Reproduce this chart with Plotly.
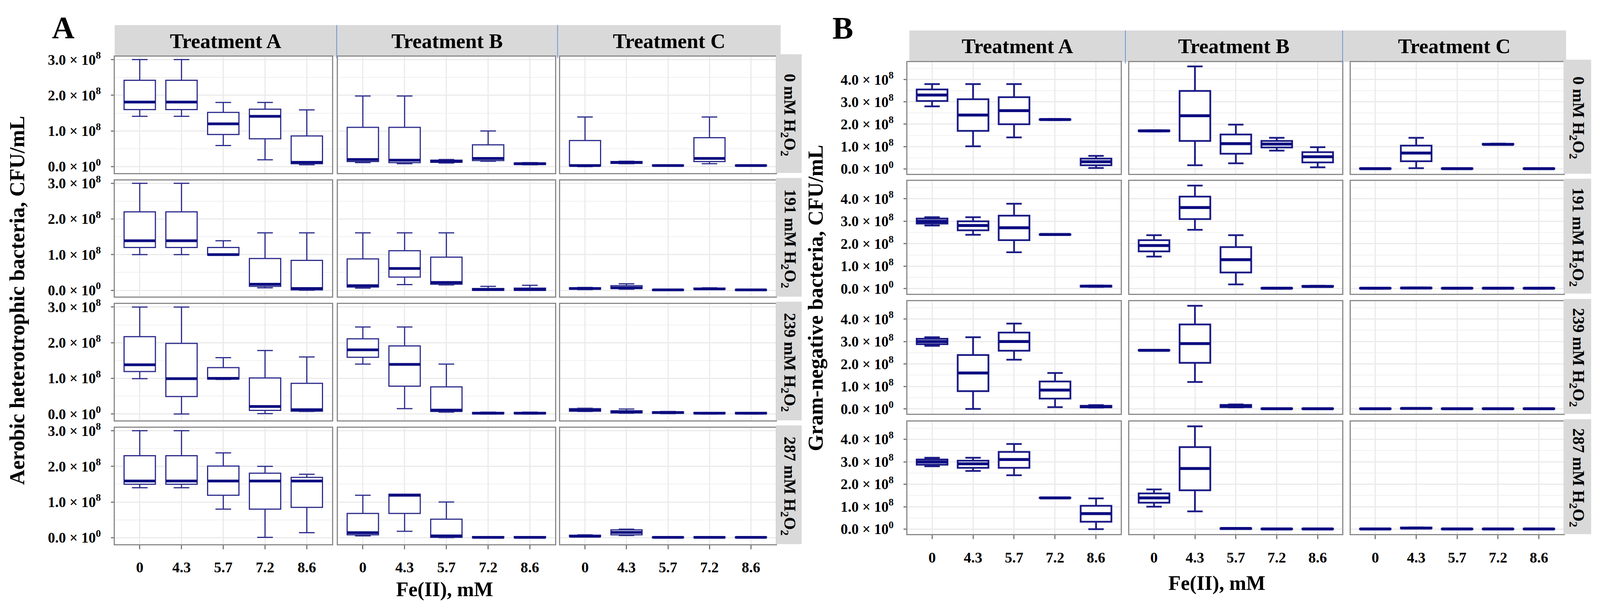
import plotly.graph_objects as go

W, H = 4339, 1564   # reference geometry used to place everything (paper fractions)
FONT = "Liberation Serif"

# ---------------- data (units of 10^8 CFU/mL) ----------------
# each row: [lower whisker, q1, median, q3, upper whisker] for Fe(II) 0, 4.3, 5.7, 7.2, 8.6 mM
fe_labels = ["0", "4.3", "5.7", "7.2", "8.6"]
treatments = ["Treatment A", "Treatment B", "Treatment C"]
h2o2_labels = ["0 mM H<sub>2</sub>O<sub>2</sub>", "191 mM H<sub>2</sub>O<sub>2</sub>",
               "239 mM H<sub>2</sub>O<sub>2</sub>", "287 mM H<sub>2</sub>O<sub>2</sub>"]
aer_ticks = [0, 1, 2, 3]
aer_ticktext = ["0.0 × 10<sup>0</sup>", "1.0 × 10<sup>8</sup>", "2.0 × 10<sup>8</sup>", "3.0 × 10<sup>8</sup>"]
gn_ticks = [0, 1, 2, 3, 4]
gn_ticktext = ["0.0 × 10<sup>0</sup>", "1.0 × 10<sup>8</sup>", "2.0 × 10<sup>8</sup>",
               "3.0 × 10<sup>8</sup>", "4.0 × 10<sup>8</sup>"]

# Panel A: aerobic heterotrophic bacteria
aer_A_0 = [[1.41, 1.60, 1.81, 2.42, 3.00], [1.41, 1.60, 1.81, 2.42, 3.00], [0.59, 0.90, 1.20, 1.52, 1.80],
           [0.19, 0.78, 1.41, 1.61, 1.80], [0.05, 0.08, 0.12, 0.86, 1.59]]
aer_B_0 = [[0.11, 0.14, 0.20, 1.10, 1.98], [0.08, 0.11, 0.18, 1.10, 1.98], [0.10, 0.12, 0.15, 0.18, 0.20],
           [0.15, 0.17, 0.23, 0.61, 1.00], [0.05, 0.06, 0.08, 0.10, 0.11]]
aer_C_0 = [[0.00, 0.02, 0.03, 0.73, 1.39], [0.08, 0.09, 0.12, 0.14, 0.15], [0.01, 0.02, 0.03, 0.04, 0.04],
           [0.08, 0.14, 0.23, 0.81, 1.39], [0.01, 0.02, 0.03, 0.04, 0.04]]
aer_A_191 = [[1.00, 1.20, 1.39, 2.20, 3.00], [1.00, 1.20, 1.39, 2.20, 3.00], [0.99, 0.99, 1.00, 1.20, 1.39],
             [0.07, 0.11, 0.17, 0.89, 1.61], [0.00, 0.01, 0.05, 0.84, 1.61]]
aer_B_191 = [[0.06, 0.09, 0.13, 0.88, 1.61], [0.16, 0.37, 0.61, 1.11, 1.61], [0.15, 0.17, 0.22, 0.93, 1.61],
             [0.00, 0.00, 0.02, 0.05, 0.11], [0.00, 0.00, 0.02, 0.06, 0.14]]
aer_C_191 = [[0.02, 0.03, 0.05, 0.07, 0.08], [0.03, 0.05, 0.07, 0.13, 0.18], [0.00, 0.00, 0.01, 0.02, 0.02],
             [0.02, 0.03, 0.04, 0.06, 0.07], [0.00, 0.00, 0.01, 0.02, 0.02]]
aer_A_239 = [[0.99, 1.19, 1.38, 2.17, 3.00], [0.00, 0.49, 0.99, 1.98, 3.00], [0.97, 0.98, 1.00, 1.30, 1.58],
             [0.01, 0.10, 0.21, 1.01, 1.78], [0.07, 0.08, 0.12, 0.86, 1.60]]
aer_B_239 = [[1.40, 1.59, 1.80, 2.11, 2.44], [0.15, 0.78, 1.39, 1.91, 2.44], [0.05, 0.07, 0.11, 0.76, 1.40],
             [0.00, 0.01, 0.02, 0.04, 0.05], [0.00, 0.01, 0.02, 0.04, 0.05]]
aer_C_239 = [[0.07, 0.08, 0.11, 0.15, 0.16], [0.02, 0.03, 0.06, 0.09, 0.14], [0.01, 0.02, 0.04, 0.06, 0.07],
             [0.00, 0.01, 0.02, 0.04, 0.04], [0.00, 0.01, 0.02, 0.04, 0.04]]
aer_A_287 = [[1.40, 1.50, 1.59, 2.30, 3.00], [1.40, 1.50, 1.59, 2.30, 3.00], [0.80, 1.19, 1.59, 2.01, 2.38],
             [0.01, 0.80, 1.59, 1.81, 2.00], [0.14, 0.85, 1.59, 1.69, 1.78]]
aer_B_287 = [[0.05, 0.08, 0.14, 0.68, 1.19], [0.18, 0.68, 1.19, 1.22, 1.22], [0.00, 0.01, 0.05, 0.52, 1.00],
             [0.00, 0.00, 0.01, 0.03, 0.03], [0.00, 0.00, 0.01, 0.03, 0.03]]
aer_C_287 = [[0.02, 0.03, 0.04, 0.07, 0.08], [0.06, 0.08, 0.15, 0.22, 0.24], [0.00, 0.00, 0.01, 0.02, 0.02],
             [0.00, 0.00, 0.01, 0.02, 0.02], [0.00, 0.00, 0.01, 0.02, 0.02]]

# Panel B: Gram-negative bacteria
gn_A_0 = [[2.80, 3.04, 3.31, 3.56, 3.80], [1.01, 1.70, 2.41, 3.12, 3.80], [1.41, 2.00, 2.61, 3.21, 3.80],
          [2.19, 2.20, 2.21, 2.22, 2.23], [0.04, 0.16, 0.32, 0.46, 0.58]]
gn_B_0 = [[1.68, 1.69, 1.70, 1.72, 1.73], [0.16, 1.25, 2.38, 3.49, 4.59], [0.25, 0.68, 1.13, 1.54, 1.98],
          [0.82, 0.96, 1.11, 1.25, 1.39], [0.07, 0.29, 0.54, 0.75, 0.97]]
gn_C_0 = [[0.00, 0.00, 0.01, 0.02, 0.02], [0.03, 0.34, 0.71, 1.04, 1.39], [0.00, 0.00, 0.01, 0.02, 0.02],
          [1.08, 1.09, 1.10, 1.12, 1.13], [0.00, 0.00, 0.01, 0.02, 0.02]]
gn_A_191 = [[2.81, 2.90, 3.00, 3.12, 3.18], [2.40, 2.60, 2.81, 3.00, 3.18], [1.62, 2.16, 2.71, 3.25, 3.78],
            [2.39, 2.40, 2.41, 2.42, 2.43], [0.08, 0.09, 0.11, 0.13, 0.14]]
gn_B_191 = [[1.43, 1.66, 1.92, 2.16, 2.38], [2.62, 3.10, 3.61, 4.10, 4.59], [0.19, 0.72, 1.29, 1.85, 2.38],
            [0.00, 0.01, 0.02, 0.03, 0.04], [0.08, 0.09, 0.10, 0.12, 0.13]]
gn_C_191 = [[0.00, 0.01, 0.02, 0.03, 0.04], [0.01, 0.02, 0.03, 0.04, 0.05], [0.00, 0.01, 0.02, 0.03, 0.04],
            [0.00, 0.01, 0.02, 0.03, 0.04], [0.00, 0.01, 0.02, 0.03, 0.04]]
gn_A_239 = [[2.81, 2.88, 3.00, 3.12, 3.19], [0.00, 0.79, 1.60, 2.40, 3.19], [2.19, 2.59, 3.00, 3.40, 3.80],
            [0.08, 0.46, 0.84, 1.22, 1.60], [0.06, 0.07, 0.10, 0.14, 0.17]]
gn_B_239 = [[2.59, 2.60, 2.61, 2.62, 2.63], [1.20, 2.05, 2.91, 3.76, 4.59], [0.07, 0.08, 0.12, 0.18, 0.20],
            [0.00, 0.00, 0.01, 0.02, 0.02], [0.00, 0.00, 0.01, 0.02, 0.02]]
gn_C_239 = [[0.00, 0.00, 0.01, 0.02, 0.02], [0.00, 0.01, 0.02, 0.03, 0.03], [0.00, 0.00, 0.01, 0.02, 0.02],
            [0.00, 0.00, 0.01, 0.02, 0.02], [0.00, 0.00, 0.01, 0.02, 0.02]]
gn_A_287 = [[2.80, 2.87, 2.99, 3.10, 3.18], [2.59, 2.73, 2.91, 3.05, 3.18], [2.40, 2.73, 3.10, 3.44, 3.79],
            [1.38, 1.39, 1.39, 1.40, 1.41], [0.00, 0.33, 0.69, 1.04, 1.37]]
gn_B_287 = [[1.00, 1.18, 1.39, 1.59, 1.77], [0.79, 1.73, 2.70, 3.65, 4.58], [0.01, 0.01, 0.03, 0.04, 0.05],
            [0.00, 0.00, 0.01, 0.02, 0.02], [0.00, 0.00, 0.01, 0.02, 0.02]]
gn_C_287 = [[0.00, 0.00, 0.01, 0.02, 0.02], [0.03, 0.04, 0.05, 0.07, 0.08], [0.00, 0.00, 0.01, 0.02, 0.02],
            [0.00, 0.00, 0.01, 0.02, 0.02], [0.00, 0.00, 0.01, 0.02, 0.02]]

aer_grid = [[aer_A_0, aer_B_0, aer_C_0], [aer_A_191, aer_B_191, aer_C_191],
            [aer_A_239, aer_B_239, aer_C_239], [aer_A_287, aer_B_287, aer_C_287]]
gn_grid = [[gn_A_0, gn_B_0, gn_C_0], [gn_A_191, gn_B_191, gn_C_191],
           [gn_A_239, gn_B_239, gn_C_239], [gn_A_287, gn_B_287, gn_C_287]]

# ---------------- layout geometry (reference pixels) ----------------
panels = [
    dict(grid=aer_grid, cols=[(311, 900), (916, 1505), (1519, 2104)],
         rows=[(129, 432), (451, 754), (773, 1076), (1095, 1398)],
         yrange=[-0.18, 3.085], ticks=aer_ticks, ticktext=aer_ticktext, minor=[0.5, 1.5, 2.5],
         header_y=(47, 129), headers=[(311, 912), (913, 1511), (1512, 2117)],
         strip_x=(2104, 2174), box_lw=3, med_lw=7, box_col="#2c2c8c",
         letter="A", letter_xy=(172, 54),
         ytitle="Aerobic heterotrophic bacteria, CFU/mL", ytitle_x=46,
         xtitle_xy=(1205, 1516)),
    dict(grid=gn_grid, cols=[(2461, 3039), (3063, 3640), (3663, 4240)],
         rows=[(143, 434), (453, 746), (766, 1059), (1079, 1372)],
         yrange=[-0.22, 4.79], ticks=gn_ticks, ticktext=gn_ticktext, minor=[0.5, 1.5, 2.5, 3.5, 4.5],
         header_y=(61, 143), headers=[(2466, 3051), (3052, 3640), (3641, 4247)],
         strip_x=(4240, 4315), box_lw=4.5, med_lw=7.5, box_col="#1a1a85",
         letter="B", letter_xy=(2286, 55),
         ytitle="Gram-negative bacteria, CFU/mL", ytitle_x=2212,
         xtitle_xy=(3300, 1500)),
]

MED_COL = "#0c0c80"
GRID_COL = "#ebebeb"
STRIP_COL = "#d9d9d9"
BORDER_COL = "#8a8a8a"


def px_x(v):
    return v / W


def px_y(v):
    return 1 - v / H


fig = go.Figure()
layout = dict(autosize=True, margin=dict(l=0, r=0, t=0, b=0, pad=0),
              paper_bgcolor="white", plot_bgcolor="white", showlegend=False,
              font=dict(family=FONT, color="black"))
shapes, annotations = [], []
positions = [1, 2, 3, 4, 5]
k = 0
for P in panels:
    for r, (top, bot) in enumerate(P["rows"]):
        for c, (left, right) in enumerate(P["cols"]):
            k += 1
            xa = "x" if k == 1 else f"x{k}"
            ya = "y" if k == 1 else f"y{k}"
            vals = P["grid"][r][c]
            lo = [v[0] for v in vals]
            q1 = [v[1] for v in vals]
            md = [v[2] for v in vals]
            q3 = [v[3] for v in vals]
            hi = [v[4] for v in vals]
            fig.add_trace(go.Box(x=positions, lowerfence=lo, q1=q1, median=md, q3=q3, upperfence=hi,
                                 width=0.75, fillcolor="white", boxpoints=False,
                                 line=dict(color=P["box_col"], width=P["box_lw"]),
                                 xaxis=xa, yaxis=ya, hoverinfo="skip"))
            mx, my = [], []
            for p, m in zip(positions, md):
                mx += [p - 0.375, p + 0.375, None]
                my += [m, m, None]
            fig.add_trace(go.Scatter(x=mx, y=my, mode="lines",
                                     line=dict(color=MED_COL, width=P["med_lw"]),
                                     xaxis=xa, yaxis=ya, hoverinfo="skip"))
            bottom_row = (r == len(P["rows"]) - 1)
            left_col = (c == 0)
            layout["xaxis" if k == 1 else f"xaxis{k}"] = dict(
                domain=[px_x(left), px_x(right)], anchor=ya, range=[0.4, 5.6],
                tickmode="array", tickvals=positions, ticktext=fe_labels,
                showticklabels=bottom_row, ticks="outside" if bottom_row else "",
                ticklen=10, tickwidth=3, tickcolor="#7a7a7a", ticklabelstandoff=14,
                tickfont=dict(family=FONT, size=38, color="black", weight="bold"),
                showgrid=True, gridcolor=GRID_COL, gridwidth=2.5, zeroline=False,
                showline=True, mirror=True, linecolor=BORDER_COL, linewidth=3, fixedrange=True)
            layout["yaxis" if k == 1 else f"yaxis{k}"] = dict(
                domain=[px_y(bot), px_y(top)], anchor=xa, range=P["yrange"],
                tickmode="array", tickvals=P["ticks"], ticktext=P["ticktext"],
                showticklabels=left_col, ticks="outside" if left_col else "",
                ticklen=7, tickwidth=3, tickcolor="#7a7a7a", ticklabelstandoff=18,
                tickfont=dict(family=FONT, size=37, color="black", weight="bold"),
                showgrid=True, gridcolor=GRID_COL, gridwidth=3, zeroline=False,
                minor=dict(tickvals=P["minor"], showgrid=True, gridcolor="#f1f1f1", gridwidth=1.5),
                showline=True, mirror=True, linecolor=BORDER_COL, linewidth=3, fixedrange=True)

    # column headers
    hy0, hy1 = P["header_y"]
    for (hl, hr), name in zip(P["headers"], treatments):
        shapes.append(dict(type="rect", xref="paper", yref="paper", x0=px_x(hl), x1=px_x(hr),
                           y0=px_y(hy1), y1=px_y(hy0), fillcolor=STRIP_COL, line=dict(width=0), layer="below"))
        annotations.append(dict(xref="paper", yref="paper", x=px_x((hl + hr) / 2), y=px_y((hy0 + hy1) / 2),
                                text=name, showarrow=False, xanchor="center", yanchor="middle",
                                font=dict(family=FONT, size=53, color="black", weight="bold")))
    for (hl, hr) in P["headers"][1:]:
        shapes.append(dict(type="line", xref="paper", yref="paper", x0=px_x(hl), x1=px_x(hl),
                           y0=px_y(hy1 + 4), y1=px_y(hy0), line=dict(color="#6f8fd0", width=2)))
    # row strips
    sx0, sx1 = P["strip_x"]
    for (top, bot), lab in zip(P["rows"], h2o2_labels):
        shapes.append(dict(type="rect", xref="paper", yref="paper", x0=px_x(sx0), x1=px_x(sx1),
                           y0=px_y(bot), y1=px_y(top - 6), fillcolor=STRIP_COL, line=dict(width=0)))
        annotations.append(dict(xref="paper", yref="paper", x=px_x((sx0 + sx1) / 2), y=px_y((top + bot) / 2),
                                text=lab, showarrow=False, textangle=90, xanchor="center", yanchor="middle",
                                font=dict(family=FONT, size=42, color="black", weight="bold")))
    # panel letter
    lx, ly = P["letter_xy"]
    annotations.append(dict(xref="paper", yref="paper", x=px_x(lx), y=px_y(ly), text=P["letter"],
                            showarrow=False, xanchor="center", yanchor="middle",
                            font=dict(family=FONT, size=80, color="black", weight="bold")))
    # y title
    annotations.append(dict(xref="paper", yref="paper", x=px_x(P["ytitle_x"]),
                            y=px_y((P["rows"][0][0] + P["rows"][-1][1]) / 2), text=P["ytitle"],
                            showarrow=False, textangle=-90, xanchor="center", yanchor="middle",
                            font=dict(family=FONT, size=54, color="black", weight="bold")))
    # x title
    tx, ty = P["xtitle_xy"]
    annotations.append(dict(xref="paper", yref="paper", x=px_x(tx), y=px_y(ty), text="Fe(II), mM",
                            showarrow=False, xanchor="center", yanchor="middle",
                            font=dict(family=FONT, size=52, color="black", weight="bold")))

layout["shapes"] = shapes
layout["annotations"] = annotations
fig.update_layout(**layout)

fit_page = ("document.documentElement.style.margin='0';"
            "document.body.style.margin='0';"
            "document.body.style.overflow='hidden';"
            "document.documentElement.style.overflow='hidden';")
fig.write_html("out.html", default_width="100vw", default_height="100vh",
               config={"responsive": True, "displayModeBar": False}, post_script=fit_page)
